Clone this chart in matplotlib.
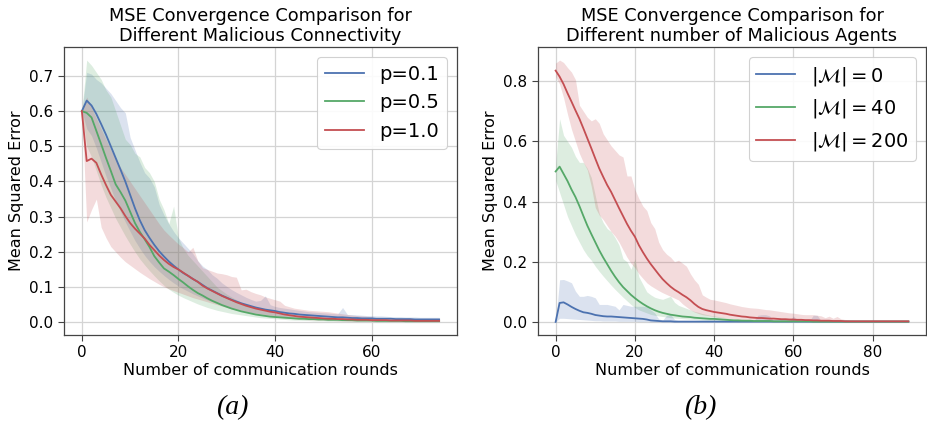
import numpy as np
import matplotlib
matplotlib.use("Agg")
import matplotlib.pyplot as plt

# ---------------- data: panel (a) ----------------
a_labels = ["p=0.1", "p=0.5", "p=1.0"]

a_p01_mean = [0.600, 0.630, 0.616, 0.592, 0.563, 0.533, 0.500, 0.467, 0.434, 0.400,
              0.362, 0.324, 0.290, 0.262, 0.240, 0.220, 0.202, 0.187, 0.173, 0.161,
              0.150, 0.140, 0.132, 0.123, 0.115, 0.106, 0.097, 0.090, 0.083, 0.076,
              0.070, 0.064, 0.059, 0.054, 0.050, 0.046, 0.042, 0.039, 0.036, 0.034,
              0.032, 0.029, 0.027, 0.025, 0.024, 0.022, 0.021, 0.020, 0.019, 0.018,
              0.017, 0.016, 0.015, 0.014, 0.014, 0.013, 0.012, 0.012, 0.011, 0.011,
              0.011, 0.010, 0.010, 0.010, 0.010, 0.009, 0.009, 0.009, 0.009, 0.008,
              0.008, 0.008, 0.008, 0.008, 0.008]
a_p01_upper = [0.600, 0.710, 0.705, 0.690, 0.680, 0.665, 0.650, 0.630, 0.610, 0.595,
               0.525, 0.490, 0.455, 0.425, 0.410, 0.385, 0.335, 0.305, 0.280, 0.258,
               0.240, 0.225, 0.210, 0.195, 0.175, 0.160, 0.150, 0.135, 0.125, 0.112,
               0.102, 0.093, 0.085, 0.078, 0.071, 0.065, 0.060, 0.062, 0.075, 0.050,
               0.045, 0.042, 0.040, 0.038, 0.036, 0.034, 0.032, 0.030, 0.029, 0.028,
               0.027, 0.026, 0.025, 0.024, 0.042, 0.022, 0.022, 0.021, 0.020, 0.019,
               0.019, 0.018, 0.018, 0.017, 0.016, 0.016, 0.016, 0.015, 0.015, 0.015,
               0.014, 0.014, 0.014, 0.014, 0.014]
a_p01_lower = [0.600, 0.550, 0.530, 0.495, 0.455, 0.415, 0.380, 0.345, 0.315, 0.285,
               0.258, 0.232, 0.210, 0.190, 0.173, 0.158, 0.145, 0.133, 0.122, 0.112,
               0.103, 0.095, 0.088, 0.081, 0.075, 0.069, 0.063, 0.058, 0.053, 0.048,
               0.044, 0.040, 0.037, 0.034, 0.031, 0.028, 0.026, 0.024, 0.022, 0.020,
               0.019, 0.017, 0.016, 0.015, 0.014, 0.013, 0.012, 0.011, 0.011, 0.010,
               0.009, 0.009, 0.008, 0.008, 0.007, 0.007, 0.007, 0.006, 0.006, 0.006,
               0.006, 0.005, 0.005, 0.005, 0.005, 0.005, 0.004, 0.004, 0.004, 0.004,
               0.004, 0.004, 0.004, 0.004, 0.004]

a_p05_mean = [0.600, 0.595, 0.582, 0.544, 0.506, 0.467, 0.430, 0.392, 0.370, 0.346,
              0.314, 0.282, 0.257, 0.236, 0.214, 0.188, 0.170, 0.153, 0.144, 0.134,
              0.123, 0.113, 0.102, 0.092, 0.083, 0.076, 0.068, 0.061, 0.055, 0.049,
              0.044, 0.039, 0.035, 0.031, 0.028, 0.025, 0.022, 0.020, 0.018, 0.016,
              0.015, 0.014, 0.013, 0.012, 0.011, 0.010, 0.010, 0.009, 0.009, 0.008,
              0.008, 0.007, 0.007, 0.007, 0.006, 0.006, 0.006, 0.005, 0.005, 0.005,
              0.005, 0.004, 0.004, 0.004, 0.004, 0.004, 0.004, 0.003, 0.003, 0.003,
              0.003, 0.003, 0.003, 0.003, 0.003]
a_p05_upper = [0.600, 0.745, 0.730, 0.710, 0.690, 0.660, 0.640, 0.600, 0.560, 0.520,
               0.505, 0.480, 0.470, 0.440, 0.425, 0.400, 0.350, 0.320, 0.280, 0.330,
               0.240, 0.210, 0.190, 0.175, 0.160, 0.145, 0.130, 0.115, 0.100, 0.090,
               0.080, 0.072, 0.064, 0.057, 0.050, 0.045, 0.040, 0.036, 0.032, 0.029,
               0.026, 0.023, 0.021, 0.019, 0.017, 0.016, 0.015, 0.014, 0.013, 0.012,
               0.011, 0.011, 0.010, 0.010, 0.009, 0.009, 0.009, 0.008, 0.008, 0.008,
               0.008, 0.007, 0.007, 0.007, 0.007, 0.007, 0.006, 0.006, 0.006, 0.006,
               0.006, 0.006, 0.006, 0.006, 0.006]
a_p05_lower = [0.600, 0.500, 0.470, 0.430, 0.390, 0.355, 0.325, 0.295, 0.270, 0.245,
               0.222, 0.200, 0.180, 0.163, 0.147, 0.132, 0.118, 0.105, 0.094, 0.085,
               0.077, 0.070, 0.064, 0.058, 0.052, 0.047, 0.042, 0.038, 0.034, 0.031,
               0.028, 0.025, 0.023, 0.021, 0.019, 0.017, 0.015, 0.013, 0.012, 0.011,
               0.010, 0.009, 0.008, 0.007, 0.006, 0.006, 0.005, 0.005, 0.004, 0.004,
               0.004, 0.003, 0.003, 0.003, 0.003, 0.002, 0.002, 0.002, 0.002, 0.002,
               0.002, 0.001, 0.001, 0.001, 0.001, 0.001, 0.001, 0.001, 0.001, 0.001,
               0.001, 0.001, 0.001, 0.001, 0.001]

a_p10_mean = [0.600, 0.458, 0.465, 0.453, 0.420, 0.390, 0.362, 0.343, 0.324, 0.302,
              0.282, 0.266, 0.252, 0.238, 0.220, 0.205, 0.190, 0.177, 0.166, 0.157,
              0.150, 0.141, 0.132, 0.123, 0.115, 0.104, 0.096, 0.089, 0.082, 0.075,
              0.069, 0.063, 0.057, 0.052, 0.047, 0.043, 0.039, 0.036, 0.033, 0.030,
              0.028, 0.025, 0.022, 0.020, 0.018, 0.016, 0.015, 0.014, 0.013, 0.012,
              0.011, 0.010, 0.010, 0.009, 0.009, 0.008, 0.008, 0.007, 0.007, 0.007,
              0.006, 0.006, 0.006, 0.006, 0.005, 0.005, 0.005, 0.005, 0.005, 0.004,
              0.004, 0.004, 0.004, 0.004, 0.004]
a_p10_upper = [0.600, 0.640, 0.610, 0.580, 0.550, 0.520, 0.490, 0.465, 0.440, 0.420,
               0.400, 0.380, 0.360, 0.340, 0.320, 0.300, 0.280, 0.262, 0.248, 0.235,
               0.222, 0.212, 0.200, 0.213, 0.175, 0.155, 0.150, 0.145, 0.140, 0.138,
               0.135, 0.130, 0.128, 0.092, 0.094, 0.087, 0.082, 0.078, 0.072, 0.068,
               0.064, 0.060, 0.048, 0.044, 0.040, 0.038, 0.036, 0.034, 0.033, 0.032,
               0.031, 0.030, 0.028, 0.026, 0.024, 0.022, 0.020, 0.019, 0.018, 0.017,
               0.016, 0.012, 0.010, 0.009, 0.008, 0.008, 0.007, 0.007, 0.007, 0.006,
               0.006, 0.006, 0.006, 0.006, 0.006]
a_p10_lower = [0.600, 0.285, 0.320, 0.350, 0.270, 0.240, 0.215, 0.200, 0.185, 0.172,
               0.162, 0.152, 0.142, 0.133, 0.124, 0.116, 0.108, 0.101, 0.095, 0.090,
               0.085, 0.080, 0.075, 0.070, 0.066, 0.062, 0.058, 0.054, 0.050, 0.046,
               0.042, 0.038, 0.035, 0.032, 0.029, 0.026, 0.023, 0.021, 0.019, 0.017,
               0.015, 0.013, 0.012, 0.011, 0.010, 0.009, 0.008, 0.007, 0.007, 0.006,
               0.006, 0.005, 0.005, 0.004, 0.004, 0.004, 0.003, 0.003, 0.003, 0.003,
               0.002, 0.002, 0.002, 0.002, 0.002, 0.002, 0.002, 0.002, 0.002, 0.002,
               0.002, 0.002, 0.002, 0.002, 0.002]

# ---------------- data: panel (b) ----------------
b_labels = [r"$|\mathcal{M}| = 0$", r"$|\mathcal{M}| = 40$", r"$|\mathcal{M}| = 200$"]

b_m0_mean = [0.000, 0.063, 0.065, 0.058, 0.050, 0.043, 0.037, 0.032, 0.030, 0.027,
             0.023, 0.021, 0.019, 0.018, 0.018, 0.017, 0.016, 0.015, 0.014, 0.013,
             0.012, 0.011, 0.010, 0.008, 0.005, 0.004, 0.003, 0.002, 0.002, 0.002,
             0.001, 0.001, 0.001, 0.001, 0.001, 0.001, 0.001, 0.001, 0.001, 0.001,
             0.001, 0.001, 0.001, 0.001, 0.001, 0.001, 0.001, 0.001, 0.001, 0.001,
             0.001, 0.001, 0.001, 0.001, 0.001, 0.001, 0.001, 0.001, 0.001, 0.001,
             0.001, 0.001, 0.001, 0.001, 0.001, 0.001, 0.001, 0.001, 0.001, 0.001,
             0.001, 0.001, 0.001, 0.001, 0.001, 0.001, 0.001, 0.001, 0.001, 0.001,
             0.001, 0.001, 0.001, 0.001, 0.001, 0.001, 0.001, 0.001, 0.001, 0.001]
b_m0_upper = [0.000, 0.140, 0.141, 0.136, 0.130, 0.102, 0.085, 0.085, 0.088, 0.085,
              0.080, 0.058, 0.058, 0.058, 0.055, 0.052, 0.040, 0.058, 0.055, 0.052,
              0.052, 0.052, 0.052, 0.050, 0.040, 0.030, 0.010, 0.006, 0.022, 0.025,
              0.008, 0.004, 0.003, 0.003, 0.003, 0.003, 0.003, 0.003, 0.003, 0.003,
              0.003, 0.003, 0.003, 0.003, 0.003, 0.003, 0.003, 0.003, 0.003, 0.003,
              0.003, 0.022, 0.024, 0.024, 0.020, 0.003, 0.003, 0.003, 0.003, 0.003,
              0.020, 0.003, 0.003, 0.003, 0.003, 0.022, 0.022, 0.003, 0.003, 0.003,
              0.003, 0.003, 0.003, 0.003, 0.003, 0.003, 0.003, 0.003, 0.003, 0.003,
              0.003, 0.003, 0.003, 0.003, 0.003, 0.003, 0.003, 0.003, 0.003, 0.003]
b_m0_lower = [0.000, 0.012, 0.012, 0.011, 0.010, 0.009, 0.008, 0.007, 0.006, 0.005,
              0.004, 0.004, 0.003, 0.003, 0.003, 0.003, 0.002, 0.002, 0.002, 0.002,
              0.002, 0.001, 0.001, 0.001, 0.000, 0.000, 0.000, 0.000, 0.000, 0.000,
              0.000, 0.000, 0.000, 0.000, 0.000, 0.000, 0.000, 0.000, 0.000, 0.000,
              0.000, 0.000, 0.000, 0.000, 0.000, 0.000, 0.000, 0.000, 0.000, 0.000,
              0.000, 0.000, 0.000, 0.000, 0.000, 0.000, 0.000, 0.000, 0.000, 0.000,
              0.000, 0.000, 0.000, 0.000, 0.000, 0.000, 0.000, 0.000, 0.000, 0.000,
              0.000, 0.000, 0.000, 0.000, 0.000, 0.000, 0.000, 0.000, 0.000, 0.000,
              0.000, 0.000, 0.000, 0.000, 0.000, 0.000, 0.000, 0.000, 0.000, 0.000]

b_m40_mean = [0.500, 0.516, 0.492, 0.468, 0.440, 0.415, 0.385, 0.352, 0.320, 0.292,
              0.265, 0.238, 0.214, 0.192, 0.170, 0.150, 0.132, 0.116, 0.103, 0.090,
              0.079, 0.069, 0.060, 0.052, 0.045, 0.039, 0.034, 0.030, 0.027, 0.024,
              0.022, 0.020, 0.018, 0.017, 0.016, 0.014, 0.013, 0.012, 0.011, 0.010,
              0.010, 0.009, 0.008, 0.007, 0.006, 0.005, 0.005, 0.004, 0.004, 0.004,
              0.003, 0.003, 0.003, 0.003, 0.003, 0.002, 0.002, 0.002, 0.002, 0.002,
              0.002, 0.002, 0.002, 0.002, 0.002, 0.001, 0.001, 0.001, 0.001, 0.001,
              0.001, 0.001, 0.001, 0.001, 0.001, 0.001, 0.001, 0.001, 0.001, 0.001,
              0.001, 0.001, 0.001, 0.001, 0.001, 0.001, 0.001, 0.001, 0.001, 0.001]
b_m40_upper = [0.520, 0.675, 0.620, 0.600, 0.580, 0.550, 0.530, 0.530, 0.510, 0.480,
               0.420, 0.360, 0.330, 0.310, 0.300, 0.280, 0.255, 0.210, 0.200, 0.175,
               0.210, 0.150, 0.125, 0.100, 0.090, 0.082, 0.078, 0.075, 0.080, 0.085,
               0.065, 0.055, 0.050, 0.045, 0.040, 0.035, 0.032, 0.028, 0.025, 0.022,
               0.020, 0.018, 0.016, 0.014, 0.012, 0.011, 0.010, 0.009, 0.008, 0.007,
               0.006, 0.006, 0.005, 0.005, 0.005, 0.004, 0.004, 0.004, 0.004, 0.004,
               0.003, 0.003, 0.003, 0.003, 0.003, 0.003, 0.003, 0.003, 0.003, 0.003,
               0.003, 0.003, 0.003, 0.003, 0.003, 0.003, 0.003, 0.003, 0.003, 0.003,
               0.003, 0.003, 0.003, 0.003, 0.003, 0.003, 0.003, 0.003, 0.003, 0.003]
b_m40_lower = [0.470, 0.430, 0.390, 0.350, 0.320, 0.290, 0.265, 0.240, 0.220, 0.205,
               0.185, 0.168, 0.152, 0.137, 0.122, 0.108, 0.095, 0.082, 0.070, 0.058,
               0.048, 0.040, 0.035, 0.030, 0.025, 0.022, 0.020, 0.018, 0.016, 0.014,
               0.013, 0.012, 0.011, 0.010, 0.009, 0.008, 0.007, 0.006, 0.005, 0.004,
               0.004, 0.003, 0.003, 0.002, 0.002, 0.002, 0.001, 0.001, 0.001, 0.001,
               0.001, 0.001, 0.001, 0.001, 0.001, 0.000, 0.000, 0.000, 0.000, 0.000,
               0.000, 0.000, 0.000, 0.000, 0.000, 0.000, 0.000, 0.000, 0.000, 0.000,
               0.000, 0.000, 0.000, 0.000, 0.000, 0.000, 0.000, 0.000, 0.000, 0.000,
               0.000, 0.000, 0.000, 0.000, 0.000, 0.000, 0.000, 0.000, 0.000, 0.000]

b_m200_mean = [0.835, 0.815, 0.790, 0.760, 0.732, 0.703, 0.675, 0.643, 0.610, 0.577,
               0.543, 0.510, 0.482, 0.455, 0.432, 0.405, 0.378, 0.352, 0.326, 0.303,
               0.283, 0.255, 0.232, 0.211, 0.192, 0.175, 0.158, 0.142, 0.129, 0.117,
               0.107, 0.099, 0.090, 0.082, 0.072, 0.060, 0.050, 0.043, 0.039, 0.036,
               0.033, 0.031, 0.029, 0.027, 0.024, 0.022, 0.020, 0.018, 0.017, 0.015,
               0.014, 0.013, 0.013, 0.012, 0.011, 0.011, 0.010, 0.009, 0.009, 0.008,
               0.008, 0.007, 0.007, 0.006, 0.006, 0.005, 0.005, 0.004, 0.004, 0.004,
               0.003, 0.003, 0.003, 0.002, 0.002, 0.002, 0.002, 0.002, 0.002, 0.002,
               0.002, 0.002, 0.002, 0.002, 0.002, 0.002, 0.002, 0.002, 0.002, 0.002]
b_m200_upper = [0.860, 0.870, 0.862, 0.845, 0.830, 0.805, 0.720, 0.700, 0.680, 0.668,
                0.675, 0.660, 0.625, 0.605, 0.585, 0.570, 0.555, 0.548, 0.485, 0.485,
                0.440, 0.410, 0.385, 0.370, 0.330, 0.310, 0.265, 0.240, 0.225, 0.215,
                0.200, 0.205, 0.195, 0.185, 0.160, 0.140, 0.125, 0.090, 0.082, 0.075,
                0.073, 0.070, 0.067, 0.064, 0.060, 0.057, 0.054, 0.051, 0.049, 0.047,
                0.046, 0.045, 0.043, 0.041, 0.040, 0.038, 0.036, 0.034, 0.032, 0.030,
                0.029, 0.027, 0.025, 0.024, 0.024, 0.024, 0.022, 0.020, 0.014, 0.019,
                0.012, 0.018, 0.010, 0.008, 0.006, 0.005, 0.004, 0.004, 0.004, 0.003,
                0.003, 0.003, 0.003, 0.003, 0.003, 0.003, 0.003, 0.003, 0.003, 0.003]
b_m200_lower = [0.815, 0.790, 0.745, 0.690, 0.640, 0.600, 0.560, 0.530, 0.505, 0.450,
                0.380, 0.355, 0.340, 0.320, 0.300, 0.285, 0.265, 0.240, 0.215, 0.195,
                0.180, 0.160, 0.145, 0.130, 0.120, 0.112, 0.104, 0.097, 0.091, 0.085,
                0.079, 0.073, 0.060, 0.050, 0.040, 0.033, 0.028, 0.024, 0.022, 0.020,
                0.018, 0.016, 0.015, 0.013, 0.012, 0.010, 0.009, 0.008, 0.007, 0.007,
                0.006, 0.006, 0.005, 0.005, 0.004, 0.004, 0.004, 0.003, 0.003, 0.003,
                0.003, 0.002, 0.002, 0.002, 0.002, 0.002, 0.002, 0.001, 0.001, 0.001,
                0.001, 0.001, 0.001, 0.001, 0.001, 0.001, 0.001, 0.001, 0.001, 0.001,
                0.001, 0.001, 0.001, 0.001, 0.001, 0.001, 0.001, 0.001, 0.001, 0.001]

a_xticks = [0, 20, 40, 60]
a_yticks = [0.0, 0.1, 0.2, 0.3, 0.4, 0.5, 0.6, 0.7]
b_xticks = [0, 20, 40, 60, 80]
b_yticks = [0.0, 0.2, 0.4, 0.6, 0.8]

colors = ["#4C72B0", "#55A868", "#C44E52"]

plt.rcParams["font.family"] = ["DejaVu Sans"]
fig = plt.figure(figsize=(9.27, 4.25), dpi=100)
fig.patch.set_facecolor("white")

W, H = 927.0, 425.0
ax1 = fig.add_axes([64 / W, 1 - 335 / H, (457 - 64) / W, (335 - 47) / H])
ax2 = fig.add_axes([538 / W, 1 - 335 / H, (926 - 538) / W, (335 - 47) / H])


def draw(ax, series, labels, title, xticks, yticks):
    for (m, lo, up), lab, c in zip(series, labels, colors):
        x = np.arange(len(m))
        ax.fill_between(x, lo, up, color=c, alpha=0.2, linewidth=0)
        ax.plot(x, m, color=c, linewidth=1.3, label=lab)
    ax.set_xticks(xticks)
    ax.set_yticks(yticks)
    ax.grid(True, color="#d4d4d4", linewidth=0.9)
    ax.set_axisbelow(True)
    for s in ax.spines.values():
        s.set_color("#444444")
        s.set_linewidth(0.9)
    ax.tick_params(labelsize=11, length=4, color="#444444", width=0.8)
    ax.set_title(title, fontsize=12.8, pad=4)
    ax.set_xlabel("Number of communication rounds", fontsize=11.5, labelpad=2)
    ax.set_ylabel("Mean Squared Error", fontsize=11.5, labelpad=4)
    leg = ax.legend(loc="upper right", fontsize=14, frameon=True, fancybox=True,
                    edgecolor="#cccccc", framealpha=0.9, handlelength=2.0)
    leg.get_frame().set_linewidth(0.8)


draw(ax1,
     [(a_p01_mean, a_p01_lower, a_p01_upper),
      (a_p05_mean, a_p05_lower, a_p05_upper),
      (a_p10_mean, a_p10_lower, a_p10_upper)],
     a_labels,
     "MSE Convergence Comparison for\nDifferent Malicious Connectivity",
     a_xticks, a_yticks)

draw(ax2,
     [(b_m0_mean, b_m0_lower, b_m0_upper),
      (b_m40_mean, b_m40_lower, b_m40_upper),
      (b_m200_mean, b_m200_lower, b_m200_upper)],
     b_labels,
     "MSE Convergence Comparison for\nDifferent number of Malicious Agents",
     b_xticks, b_yticks)

fig.text(232 / W, 1 - 408 / H, "(a)", fontsize=20, style="italic",
         family=["Liberation Serif", "DejaVu Serif"], ha="center", va="center")
fig.text(700 / W, 1 - 408 / H, "(b)", fontsize=20, style="italic",
         family=["Liberation Serif", "DejaVu Serif"], ha="center", va="center")

fig.savefig("out.png", dpi=100, facecolor="white")
